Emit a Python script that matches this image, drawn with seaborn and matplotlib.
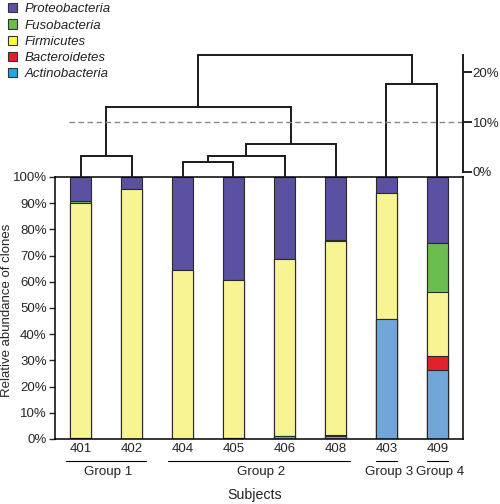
import numpy as np
import pandas as pd
import matplotlib
matplotlib.use("Agg")
import matplotlib.pyplot as plt
from matplotlib.patches import Patch
import seaborn as sns

# ---------------------------------------------------------
# Data
# ---------------------------------------------------------
subjects = ["401", "402", "404", "405", "406", "408", "403", "409"]
phyla = ["Actinobacteria", "Bacteroidetes", "Firmicutes", "Fusobacteria", "Proteobacteria"]

actinobacteria = [0.5, 0.0, 0.0, 0.5, 1.0, 1.0, 45.7, 26.5]
bacteroidetes = [0.0, 0.0, 0.0, 0.0, 0.0, 0.6, 0.0, 5.3]
firmicutes = [89.7, 95.4, 64.4, 60.3, 67.5, 74.0, 48.0, 24.3]
fusobacteria = [0.6, 0.0, 0.0, 0.0, 0.0, 0.5, 0.0, 18.5]
proteobacteria = [100 - a - b - f - u for a, b, f, u in
                  zip(actinobacteria, bacteroidetes, firmicutes, fusobacteria)]

bar_colors = ["#72a6d8", "#e2222a", "#f8f494", "#6cbd4f", "#5b51a2"]
legend_colors = ["#1fa8e0", "#e2222a", "#ffff3a", "#6cbd4f", "#5b51a2"]

# groups: name, first subject, last subject
group_names = ["Group 1", "Group 2", "Group 3", "Group 4"]
group_first = ["401", "404", "403", "409"]
group_last = ["402", "408", "403", "409"]

# dendrogram merges (left child, right child, height in %)
link_left = ["401", "404", "C2", "C3", "C1", "403", "C5"]
link_right = ["402", "405", "406", "408", "C4", "409", "C6"]
link_height = [3.1, 1.95, 3.1, 5.6, 13.1, 17.6, 23.4]
cut_level = 10

# ---------------------------------------------------------
# Style
# ---------------------------------------------------------
sns.set_theme(style="white")
plt.rcParams["font.family"] = ["Liberation Sans", "DejaVu Sans"]
plt.rcParams["font.size"] = 9.5
plt.rcParams["text.color"] = "#222222"

fig = plt.figure(figsize=(5, 5.04), dpi=100)
ax = fig.add_axes([0.11, 0.129, 0.816, 0.520])
axd = fig.add_axes([0.11, 0.649, 0.816, 0.252], sharex=ax)

# ---------------------------------------------------------
# Stacked bars (cumulative, drawn from the top down)
# ---------------------------------------------------------
layers = np.array([actinobacteria, bacteroidetes, firmicutes, fusobacteria, proteobacteria])
cum = np.cumsum(layers, axis=0)
for i in range(len(phyla) - 1, -1, -1):
    df = pd.DataFrame({"subject": subjects, "value": cum[i]})
    sns.barplot(data=df, x="subject", y="value", order=subjects, color=bar_colors[i],
                saturation=1, width=0.41, edgecolor="#2a2a2a", linewidth=0.8,
                errorbar=None, ax=ax)

ax.set_xlim(-0.5, 7.5)
ax.set_ylim(0, 100)
ax.set_yticks(range(0, 101, 10))
ax.set_yticklabels([f"{v}%" for v in range(0, 101, 10)])
ax.tick_params(axis="y", length=4, width=1, pad=2, direction="out", left=True,
               labelsize=9.5)
ax.tick_params(axis="x", length=0, pad=3, labelsize=9.5)
ax.set_xlabel("")
ax.set_ylabel("Relative abundance of clones", fontsize=9.5)
ax.yaxis.set_label_coords(-0.102, 0.49)
for s in ax.spines.values():
    s.set_color("black")
    s.set_linewidth(1.1)

# group underlines and labels
tr = ax.get_xaxis_transform()
for name, first, last in zip(group_names, group_first, group_last):
    i0, i1 = subjects.index(first), subjects.index(last)
    pad = 0.28 if i1 > i0 else 0.21
    ax.plot([i0 - pad, i1 + pad], [-0.083, -0.083], color="black", lw=0.8,
            transform=tr, clip_on=False)
    ax.text((i0 + i1) / 2 + 0.05, -0.127, name, ha="center", va="center", transform=tr,
            fontsize=9.6)

fig.text(0.51, 1 - 495 / 504, "Subjects", ha="center", va="center", fontsize=10.2)

# ---------------------------------------------------------
# Dendrogram
# ---------------------------------------------------------
ybottom = -1.0
axd.set_ylim(ybottom, 24.5)
pos = {s: (i, ybottom) for i, s in enumerate(subjects)}
for k, (l, r, h) in enumerate(zip(link_left, link_right, link_height)):
    xl, yl = pos[l]
    xr, yr = pos[r]
    axd.plot([xl, xl, xr, xr], [yl, h, h, yr], color="#1a1a1a", lw=1.4,
             solid_joinstyle="miter", clip_on=False)
    pos[f"C{k + 1}"] = ((xl + xr) / 2, h)

axd.plot([-0.22, 7.5], [cut_level, cut_level], color="#888888", lw=1, ls=(0, (4, 2.5)))

for side in ["top", "left", "bottom"]:
    axd.spines[side].set_visible(False)
axd.spines["right"].set_visible(True)
axd.spines["right"].set_color("#1a1a1a")
axd.spines["right"].set_linewidth(1.4)
axd.spines["right"].set_bounds(0, 23.5)
axd.yaxis.tick_right()
axd.set_yticks([0, 10, 20])
axd.set_yticklabels(["0%", "10%", "20%"])
axd.tick_params(axis="y", right=True, left=False, length=6.5, width=1.4, pad=0.5,
                direction="out", labelsize=9.5)
axd.tick_params(axis="x", bottom=False, labelbottom=False)
axd.set_facecolor("none")

# ---------------------------------------------------------
# Legend
# ---------------------------------------------------------
handles = [Patch(facecolor=legend_colors[i], edgecolor="#333333", linewidth=0.8,
                 label=phyla[i]) for i in range(len(phyla) - 1, -1, -1)]
leg = fig.legend(handles=handles, loc="upper left", bbox_to_anchor=(-0.003, 1.012),
                 frameon=False, handlelength=0.7, handleheight=0.7, handletextpad=0.6,
                 labelspacing=0.3, borderpad=0.2, prop={"style": "italic", "size": 9.5})

fig.savefig("out.png", dpi=100)
